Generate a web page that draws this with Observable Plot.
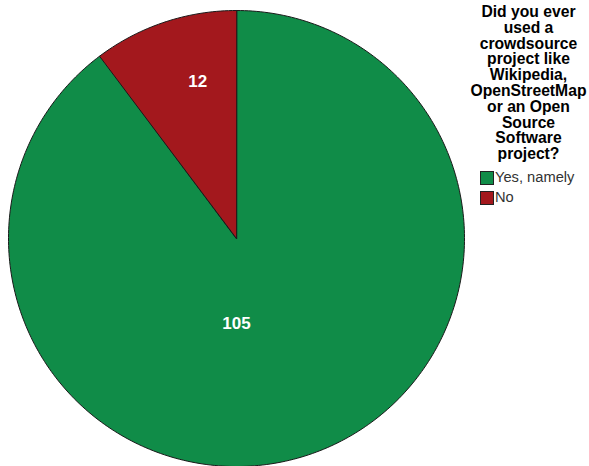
<!DOCTYPE html>
<html>
<head>
<meta charset="utf-8">
<script src="https://cdn.jsdelivr.net/npm/d3@7"></script>
<script src="https://cdn.jsdelivr.net/npm/@observablehq/plot@0.6"></script>
<style>
  body { margin: 0; background: #fff; }
  #wrap { position: relative; width: 589px; height: 466px; font-family: "Liberation Sans", Arial, sans-serif; }
  #legend { position: absolute; left: 468px; top: 4px; width: 121px; }
  #legend .title { font-weight: bold; font-size: 15.7px; line-height: 15.8px; text-align: center; color: #000; }
  #legend .item { position: relative; height: 20px; font-size: 14.7px; color: #333; }
  #legend .sw { position: absolute; left: 12px; top: 0px; width: 12px; height: 12px; border: 1px solid #222; }
  #legend .lab { position: absolute; left: 27px; top: -2px; white-space: nowrap; line-height: 16px; }
</style>
</head>
<body>
<div id="wrap"></div>
<script>
// ---- data ----
const categories = ["Yes, namely", "No"];
const counts = [105, 12];
const colors = ["#108c48", "#a3181d"];
const legendTitle = ["Did you ever", "used a", "crowdsource", "project like", "Wikipedia,", "OpenStreetMap", "or an Open", "Source", "Software", "project?"];

// ---- layout via d3.pie ----
const table = categories.map((c, i) => ({category: c, value: counts[i], color: colors[i]}));
const arcs = d3.pie().sort(null).value(d => d.value).startAngle(0).endAngle(2 * Math.PI)(table);
const total = d3.sum(counts);

const polyPts = [];
const labelPts = [];
arcs.forEach(a => {
  const n = Math.max(8, Math.ceil((a.endAngle - a.startAngle) / (Math.PI / 180)));
  polyPts.push({category: a.data.category, x: 0, y: 0});
  for (let k = 0; k <= n; k++) {
    const t = a.startAngle + (a.endAngle - a.startAngle) * k / n;
    polyPts.push({category: a.data.category, x: Math.sin(t), y: -Math.cos(t)});
  }
  const frac = a.data.value / total;
  const mid = frac > 0.5 ? Math.PI : (a.startAngle + a.endAngle) / 2 + 0.08;
  const rr = frac > 0.5 ? 0.375 : 0.71;
  labelPts.push({category: a.data.category, value: a.data.value, x: rr * Math.sin(mid), y: -rr * Math.cos(mid)});
});

const plot = Plot.plot({
  width: 589,
  height: 466,
  margin: 0,
  x: {domain: [-1, 1], range: [8, 464], axis: null},
  y: {domain: [-1, 1], range: [10, 466], axis: null},
  color: {domain: categories, range: colors},
  marks: [
    Plot.line(polyPts, {x: "x", y: "y", z: "category", fill: "category", stroke: "#1a1a1a", strokeWidth: 1, curve: "linear-closed"}),
    Plot.text(labelPts, {x: "x", y: "y", text: d => String(d.value), fill: "white", fontWeight: "bold", fontSize: 17, fontFamily: "Liberation Sans, Arial, sans-serif"})
  ]
});

const wrap = document.getElementById("wrap");
wrap.appendChild(plot);

const leg = document.createElement("div");
leg.id = "legend";
const title = document.createElement("div");
title.className = "title";
title.innerHTML = legendTitle.join("<br>");
leg.appendChild(title);
const spacer = document.createElement("div");
spacer.style.height = "9px";
leg.appendChild(spacer);
categories.forEach((c, i) => {
  const it = document.createElement("div");
  it.className = "item";
  const sw = document.createElement("div");
  sw.className = "sw";
  sw.style.background = colors[i];
  const lb = document.createElement("div");
  lb.className = "lab";
  lb.textContent = c;
  it.appendChild(sw);
  it.appendChild(lb);
  leg.appendChild(it);
});
wrap.appendChild(leg);
</script>
</body>
</html>
